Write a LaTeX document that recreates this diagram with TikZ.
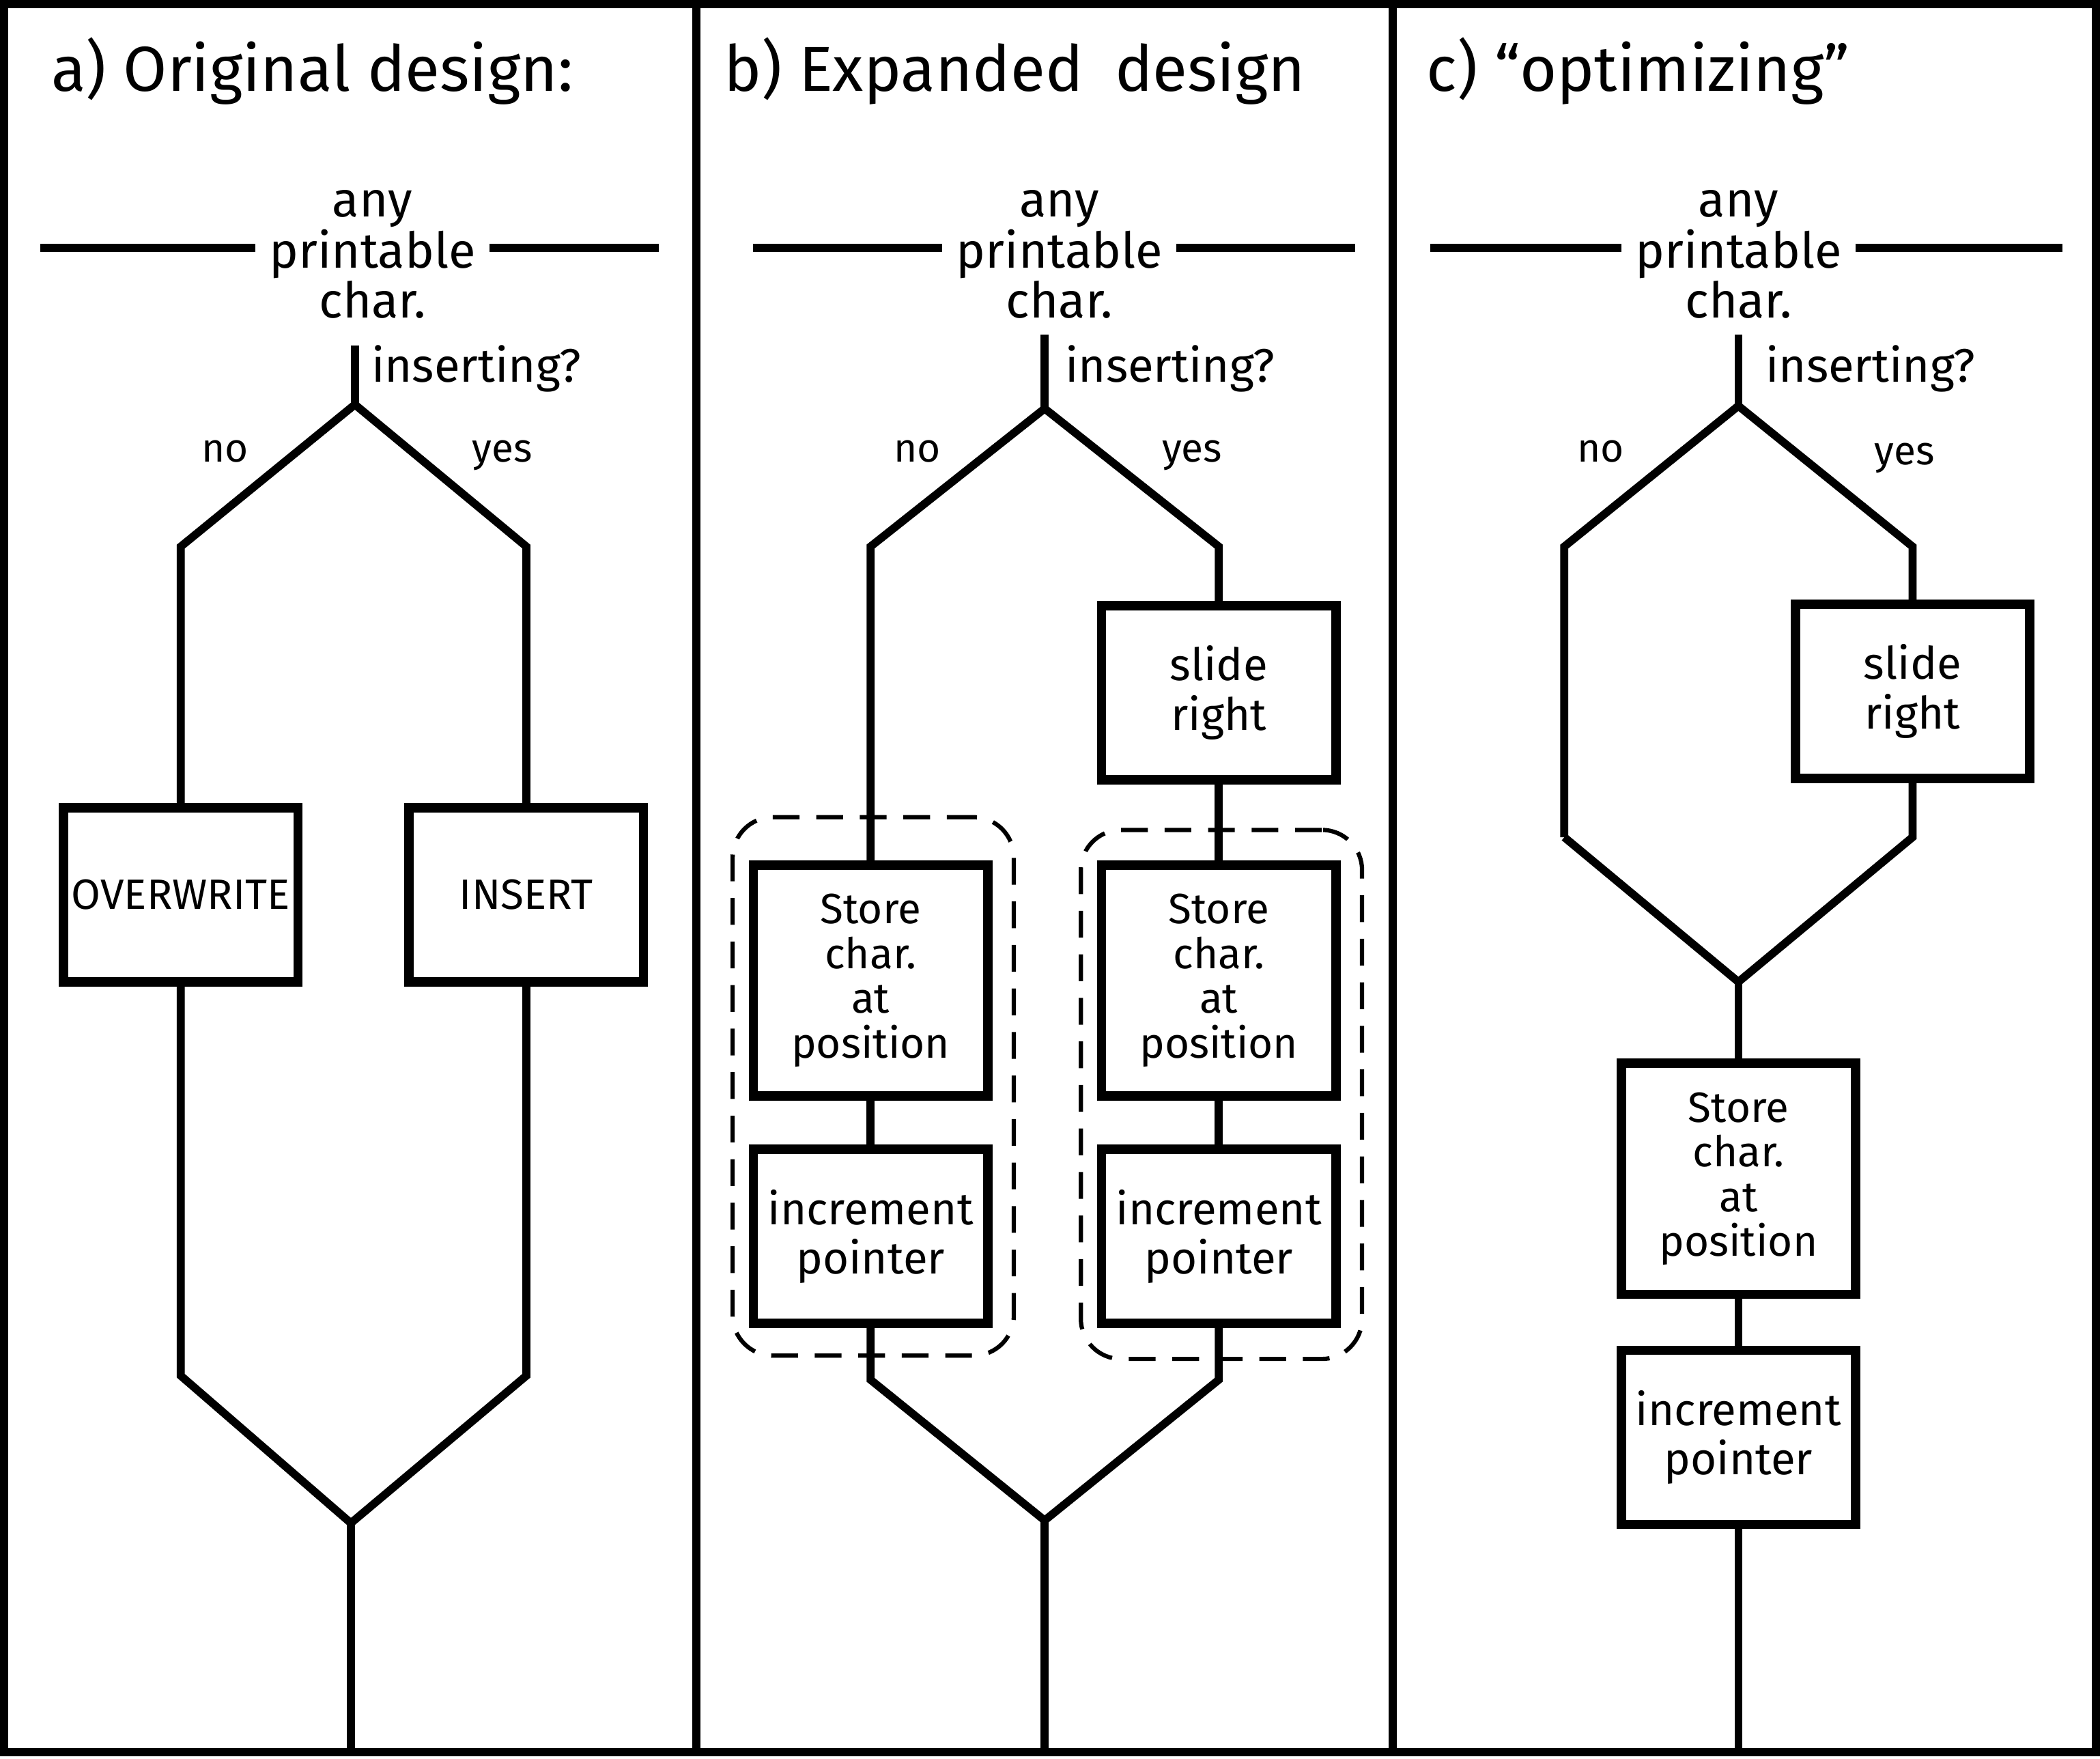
\documentclass[tikz,border=0pt]{standalone}
\usepackage{fontspec}
\setmainfont{Fira Sans}
\usetikzlibrary{positioning}

\tikzset{
  wire/.style={line width=3.4pt},
  panel/.style={line width=3.6pt},
  title/.style={anchor=base west,inner sep=0pt,font=\fontsize{27}{30}\selectfont},
  event/.style={align=center,inner sep=0.2cm,font=\fontsize{21}{20}\selectfont},
  cond/.style={anchor=base west,inner sep=0pt,font=\fontsize{20}{20}\selectfont},
  branch/.style={anchor=base,inner sep=0pt,font=\fontsize{17}{17}\selectfont},
  stepbox/.style={draw,line width=4pt,minimum width=3.5cm,minimum height=2.6cm,
    align=center,inner sep=0pt,font=\fontsize{19}{21}\selectfont},
  capbox/.style={stepbox,font=\fontsize{18}{18}\selectfont},
  storebox/.style={stepbox,minimum height=3.45cm,font=\fontsize{18}{19}\selectfont},
  group/.style={draw,line width=1.8pt,dash pattern=on 0.4cm off 0.25cm,
    rounded corners=0.6cm,minimum width=4.2cm}
}

\begin{document}
\begin{tikzpicture}[x=0.02cm,y=-0.02cm]
\useasboundingbox (0,0) rectangle (1568,1313);

% frame and panel dividers
\draw[panel] (3,3) rectangle (1565,1308);
\draw[panel] (520,3) -- (520,1308);
\draw[panel] (1040,3) -- (1040,1308);

% a) original design
\node[title] (a-title) at (38,68) {a) Original design:};
\node[event] (a-any) at (278,190) {any\\printable\\char.};
\coordinate (a-hl) at (30,185);
\coordinate (a-hr) at (492,185);
\draw[wire] (a-hl) -- (a-any.west |- a-hl);
\draw[wire] (a-any.east |- a-hr) -- (a-hr);
\coordinate (a-top) at (265,258);
\coordinate (a-fork) at (265,302);
\node[cond] (a-ask) at (277,285) {inserting?};
\node[branch] (a-n) at (168,345) {no};
\node[branch] (a-y) at (375,345) {yes};
\coordinate (a-no) at (135,408);
\coordinate (a-yes) at (393,408);
\node[capbox] (a-over) at (135,668) {OVERWRITE};
\node[capbox] (a-ins) at (393,668) {INSERT};
\coordinate (a-mno) at (135,1027);
\coordinate (a-myes) at (393,1027);
\coordinate (a-join) at (262,1137);
\coordinate (a-end) at (262,1308);
\draw[wire] (a-top) -- (a-fork);
\draw[wire] (a-over.north) -- (a-no) -- (a-fork) -- (a-yes) -- (a-ins.north);
\draw[wire] (a-over.south) -- (a-mno) -- (a-join) -- (a-myes) -- (a-ins.south);
\draw[wire] (a-join) -- (a-end);

% b) expanded design
\node[title] (b-title) at (540,68) {b) Expanded\enspace design};
\node[event] (b-any) at (791,190) {any\\printable\\char.};
\coordinate (b-hl) at (562,185);
\coordinate (b-hr) at (1012,185);
\draw[wire] (b-hl) -- (b-any.west |- b-hl);
\draw[wire] (b-any.east |- b-hr) -- (b-hr);
\coordinate (b-top) at (780,250);
\coordinate (b-fork) at (780,305);
\node[cond] (b-ask) at (795,285) {inserting?};
\node[branch] (b-n) at (685,345) {no};
\node[branch] (b-y) at (890,345) {yes};
\coordinate (b-no) at (650,408);
\coordinate (b-yes) at (910,408);
\node[stepbox] (b-slide) at (910,517) {slide\\right};
\node[group,minimum height=8.04cm] (b-grpl) at (652,811) {};
\node[group,minimum height=7.9cm] (b-grpr) at (912,817) {};
\node[storebox] (b-storel) at (650,732) {Store\\char.\\at\\position};
\node[stepbox] (b-incl) at (650,923) {increment\\pointer};
\node[storebox] (b-storer) at (910,732) {Store\\char.\\at\\position};
\node[stepbox] (b-incr) at (910,923) {increment\\pointer};
\coordinate (b-mno) at (650,1030);
\coordinate (b-myes) at (910,1030);
\coordinate (b-join) at (780,1135);
\coordinate (b-end) at (780,1308);
\draw[wire] (b-top) -- (b-fork);
\draw[wire] (b-storel.north) -- (b-no) -- (b-fork) -- (b-yes) -- (b-slide.north);
\draw[wire] (b-slide) -- (b-storer);
\draw[wire] (b-storel) -- (b-incl);
\draw[wire] (b-storer) -- (b-incr);
\draw[wire] (b-incl.south) -- (b-mno) -- (b-join) -- (b-myes) -- (b-incr.south);
\draw[wire] (b-join) -- (b-end);

% c) "optimizing"
\node[title] (c-title) at (1065,68) {c) “optimizing”};
\node[event] (c-any) at (1298,190) {any\\printable\\char.};
\coordinate (c-hl) at (1068,185);
\coordinate (c-hr) at (1540,185);
\draw[wire] (c-hl) -- (c-any.west |- c-hl);
\draw[wire] (c-any.east |- c-hr) -- (c-hr);
\coordinate (c-top) at (1298,250);
\coordinate (c-fork) at (1298,303);
\node[cond] (c-ask) at (1318,285) {inserting?};
\node[branch] (c-n) at (1195,345) {no};
\node[branch] (c-y) at (1422,347) {yes};
\coordinate (c-no) at (1168,408);
\coordinate (c-yes) at (1428,408);
\node[stepbox] (c-slide) at (1428,516) {slide\\right};
\coordinate (c-mno) at (1168,625);
\coordinate (c-myes) at (1428,625);
\coordinate (c-join) at (1298,733);
\node[storebox] (c-store) at (1298,880) {Store\\char.\\at\\position};
\node[stepbox] (c-inc) at (1298,1073) {increment\\pointer};
\coordinate (c-end) at (1298,1308);
\draw[wire] (c-top) -- (c-fork);
\draw[wire] (c-mno) -- (c-no) -- (c-fork) -- (c-yes) -- (c-slide.north);
\draw[wire] (c-slide.south) -- (c-myes) -- (c-join) -- (c-mno);
\draw[wire] (c-join) -- (c-store);
\draw[wire] (c-store) -- (c-inc);
\draw[wire] (c-inc) -- (c-end);
\end{tikzpicture}
\end{document}
